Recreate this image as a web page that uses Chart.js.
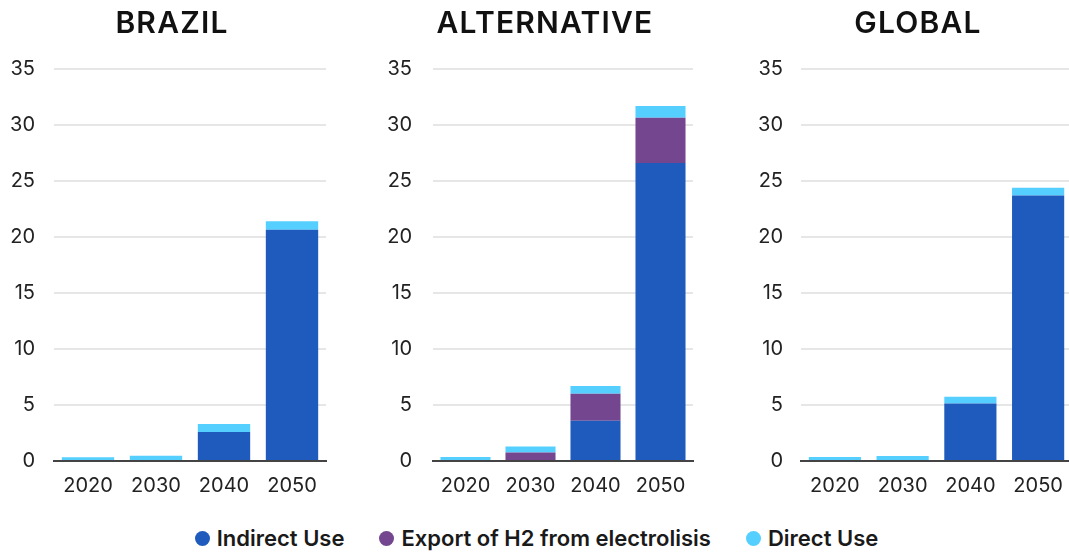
<!DOCTYPE html>
<html>
<head>
<meta charset="utf-8">
<script src="https://cdn.jsdelivr.net/npm/chart.js@4.4.1/dist/chart.umd.min.js"></script>
<style>
    html, body { margin: 0; padding: 0; background: #fff; overflow: hidden; }
    body { width: 1069px; height: 552px; position: relative; font-family: Inter, sans-serif; }
    .panel { position: absolute; top: 0; height: 519px; }
    .title {
        position: absolute; top: 4px; width: 300px; margin-left: -150px; text-align: center;
        font-size: 30px; font-weight: 600; letter-spacing: 1.2px; color: #111; line-height: 36px;
    }
    .legend {
        position: absolute; left: 0; width: 1069px; top: 525px;
        display: flex; justify-content: center; gap: 31px;
        font-size: 22px; font-weight: 600; color: #1a1a1a;
    }
    .legend span { display: flex; align-items: center; }
    .legend i { width: 15px; height: 15px; border-radius: 50%; display: inline-block; margin-right: 7px; margin-left: 4px; }
</style>
</head>
<body>
<div class="panel" style="left:0;width:344px"><canvas id="chart-brazil"></canvas></div>
<div class="panel" style="left:365px;width:360px"><canvas id="chart-alternative"></canvas></div>
<div class="panel" style="left:736px;width:364px"><canvas id="chart-global"></canvas></div>
<div class="title" style="left:172px">BRAZIL</div>
<div class="title" style="left:545px">ALTERNATIVE</div>
<div class="title" style="left:918px">GLOBAL</div>
<div class="legend">
    <span><i style="background:#1f5bbd"></i>Indirect Use</span>
    <span><i style="background:#74468f"></i>Export of H2 from electrolisis</span>
    <span><i style="background:#55cfff"></i>Direct Use</span>
</div>
<script>
const YEARS = ["2020", "2030", "2040", "2050"];
const Y_TICKS = [0, 5, 10, 15, 20, 25, 30, 35];

const BRAZIL_INDIRECT = [0, 0, 2.6, 20.65];
const BRAZIL_EXPORT = [0, 0, 0, 0];
const BRAZIL_DIRECT = [0.33, 0.47, 0.7, 0.75];

const ALT_INDIRECT = [0, 0, 3.6, 26.6];
const ALT_EXPORT = [0, 0.77, 2.4, 4.05];
const ALT_DIRECT = [0.36, 0.53, 0.7, 1.05];

const GLOBAL_INDIRECT = [0, 0, 5.13, 23.7];
const GLOBAL_EXPORT = [0, 0, 0, 0];
const GLOBAL_DIRECT = [0.36, 0.45, 0.6, 0.7];

const COLORS = {
    indirect: "#1f5bbd",
    export: "#74468f",
    direct: "#55cfff",
};

Chart.defaults.font.family = "Inter, sans-serif";
Chart.defaults.color = "#222";

function renderPanel(id, indirect, exp, direct, axisWidth, rightPad, tickPad) {
    const canvas = document.getElementById(id);
    const ds = (label, data, color) => ({
        label,
        data,
        backgroundColor: color,
        borderWidth: 0,
        barPercentage: 0.77,
        categoryPercentage: 1,
    });
    return new Chart(canvas, {
        type: "bar",
        data: {
            labels: YEARS,
            datasets: [
                ds("Indirect Use", indirect, COLORS.indirect),
                ds("Export of H2 from electrolisis", exp, COLORS.export),
                ds("Direct Use", direct, COLORS.direct),
            ],
        },
        options: {
            responsive: true,
            maintainAspectRatio: false,
            animation: false,
            layout: { padding: { top: 69, right: rightPad, bottom: 8 } },
            plugins: {
                legend: { display: false },
                tooltip: { enabled: false },
            },
            scales: {
                x: {
                    stacked: true,
                    grid: { display: false, drawTicks: false },
                    border: { display: true, color: "#444", width: 2 },
                    ticks: { padding: 13, font: { size: 20 } },
                },
                y: {
                    stacked: true,
                    min: 0,
                    max: 35,
                    afterBuildTicks: (axis) => {
                        axis.ticks = Y_TICKS.map((v) => ({ value: v }));
                    },
                    afterFit: (axis) => {
                        axis.width = axisWidth;
                    },
                    grid: {
                        drawTicks: false,
                        color: (ctx) => (ctx.tick && ctx.tick.value === 0 ? "rgba(0,0,0,0)" : "#e6e6e6"),
                        lineWidth: 2,
                    },
                    border: { display: false },
                    ticks: { padding: tickPad, font: { size: 20 } },
                },
            },
        },
    });
}

renderPanel("chart-brazil", BRAZIL_INDIRECT, BRAZIL_EXPORT, BRAZIL_DIRECT, 54, 18, 19);
renderPanel("chart-alternative", ALT_INDIRECT, ALT_EXPORT, ALT_DIRECT, 68, 32, 21);
renderPanel("chart-global", GLOBAL_INDIRECT, GLOBAL_EXPORT, GLOBAL_DIRECT, 65, 28, 18);
</script>
</body>
</html>
